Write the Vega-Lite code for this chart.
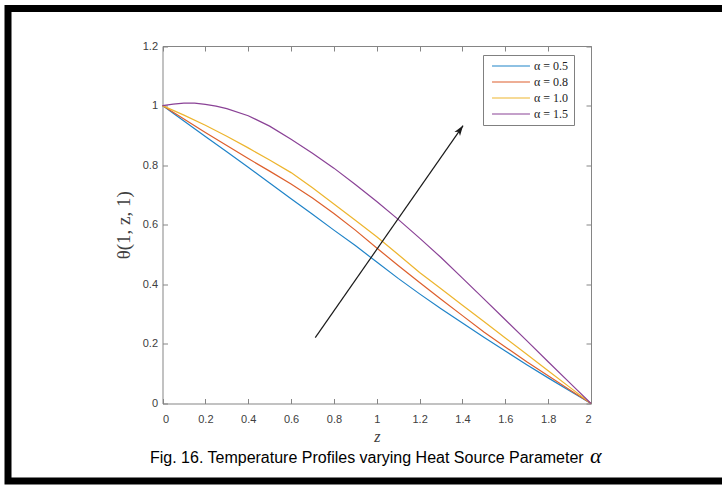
{
  "$schema": "https://vega.github.io/schema/vega-lite/v6.json",
  "width": 714,
  "height": 472.5,
  "autosize": {"type": "none"},
  "padding": {"left": 8, "top": 8.5, "right": 0, "bottom": 4},
  "background": "white",
  "config": {
    "view": {"stroke": "black", "strokeWidth": 7, "strokeDash": [714, 472.5, 1300]},
    "axis": {
      "grid": false,
      "domainColor": "#858585",
      "tickColor": "#858585",
      "labelFont": "Liberation Sans",
      "labelFontSize": 11,
      "labelColor": "#404040",
      "titleFont": "Liberation Serif",
      "titleFontWeight": "normal",
      "titleColor": "#404040"
    }
  },
  "title": {
    "text": "Fig. 16. Temperature Profiles varying Heat Source Parameter",
    "orient": "bottom",
    "anchor": "start",
    "frame": "group",
    "offset": -31,
    "dx": 142,
    "font": "Liberation Sans",
    "fontSize": 16,
    "fontWeight": "normal",
    "color": "black"
  },
  "datasets": {
    "curves": [
      {"series": "α = 0.5", "z": 0.0, "theta": 1.0},
      {"series": "α = 0.5", "z": 0.1, "theta": 0.948},
      {"series": "α = 0.5", "z": 0.2, "theta": 0.896},
      {"series": "α = 0.5", "z": 0.3, "theta": 0.845},
      {"series": "α = 0.5", "z": 0.4, "theta": 0.793},
      {"series": "α = 0.5", "z": 0.5, "theta": 0.74},
      {"series": "α = 0.5", "z": 0.6, "theta": 0.687},
      {"series": "α = 0.5", "z": 0.7, "theta": 0.635},
      {"series": "α = 0.5", "z": 0.8, "theta": 0.582},
      {"series": "α = 0.5", "z": 0.9, "theta": 0.53},
      {"series": "α = 0.5", "z": 1.0, "theta": 0.475},
      {"series": "α = 0.5", "z": 1.1, "theta": 0.42},
      {"series": "α = 0.5", "z": 1.2, "theta": 0.368},
      {"series": "α = 0.5", "z": 1.3, "theta": 0.318},
      {"series": "α = 0.5", "z": 1.4, "theta": 0.27},
      {"series": "α = 0.5", "z": 1.5, "theta": 0.222},
      {"series": "α = 0.5", "z": 1.6, "theta": 0.176},
      {"series": "α = 0.5", "z": 1.7, "theta": 0.13},
      {"series": "α = 0.5", "z": 1.8, "theta": 0.086},
      {"series": "α = 0.5", "z": 1.9, "theta": 0.043},
      {"series": "α = 0.5", "z": 2.0, "theta": 0.0},
      {"series": "α = 0.8", "z": 0.0, "theta": 1.0},
      {"series": "α = 0.8", "z": 0.1, "theta": 0.955},
      {"series": "α = 0.8", "z": 0.2, "theta": 0.91},
      {"series": "α = 0.8", "z": 0.3, "theta": 0.866},
      {"series": "α = 0.8", "z": 0.4, "theta": 0.822},
      {"series": "α = 0.8", "z": 0.5, "theta": 0.78},
      {"series": "α = 0.8", "z": 0.6, "theta": 0.737},
      {"series": "α = 0.8", "z": 0.7, "theta": 0.69},
      {"series": "α = 0.8", "z": 0.8, "theta": 0.638},
      {"series": "α = 0.8", "z": 0.9, "theta": 0.582},
      {"series": "α = 0.8", "z": 1.0, "theta": 0.522},
      {"series": "α = 0.8", "z": 1.1, "theta": 0.463},
      {"series": "α = 0.8", "z": 1.2, "theta": 0.406},
      {"series": "α = 0.8", "z": 1.3, "theta": 0.35},
      {"series": "α = 0.8", "z": 1.4, "theta": 0.295},
      {"series": "α = 0.8", "z": 1.5, "theta": 0.24},
      {"series": "α = 0.8", "z": 1.6, "theta": 0.19},
      {"series": "α = 0.8", "z": 1.7, "theta": 0.14},
      {"series": "α = 0.8", "z": 1.8, "theta": 0.093},
      {"series": "α = 0.8", "z": 1.9, "theta": 0.046},
      {"series": "α = 0.8", "z": 2.0, "theta": 0.0},
      {"series": "α = 1.0", "z": 0.0, "theta": 1.0},
      {"series": "α = 1.0", "z": 0.1, "theta": 0.968},
      {"series": "α = 1.0", "z": 0.2, "theta": 0.934},
      {"series": "α = 1.0", "z": 0.3, "theta": 0.897},
      {"series": "α = 1.0", "z": 0.4, "theta": 0.858},
      {"series": "α = 1.0", "z": 0.5, "theta": 0.817},
      {"series": "α = 1.0", "z": 0.6, "theta": 0.775},
      {"series": "α = 1.0", "z": 0.7, "theta": 0.724},
      {"series": "α = 1.0", "z": 0.8, "theta": 0.67},
      {"series": "α = 1.0", "z": 0.9, "theta": 0.615},
      {"series": "α = 1.0", "z": 1.0, "theta": 0.56},
      {"series": "α = 1.0", "z": 1.1, "theta": 0.5},
      {"series": "α = 1.0", "z": 1.2, "theta": 0.44},
      {"series": "α = 1.0", "z": 1.3, "theta": 0.385},
      {"series": "α = 1.0", "z": 1.4, "theta": 0.33},
      {"series": "α = 1.0", "z": 1.5, "theta": 0.275},
      {"series": "α = 1.0", "z": 1.6, "theta": 0.22},
      {"series": "α = 1.0", "z": 1.7, "theta": 0.165},
      {"series": "α = 1.0", "z": 1.8, "theta": 0.11},
      {"series": "α = 1.0", "z": 1.9, "theta": 0.055},
      {"series": "α = 1.0", "z": 2.0, "theta": 0.0},
      {"series": "α = 1.5", "z": 0.0, "theta": 1.0},
      {"series": "α = 1.5", "z": 0.05, "theta": 1.005},
      {"series": "α = 1.5", "z": 0.1, "theta": 1.008},
      {"series": "α = 1.5", "z": 0.15, "theta": 1.008},
      {"series": "α = 1.5", "z": 0.2, "theta": 1.004},
      {"series": "α = 1.5", "z": 0.25, "theta": 0.998},
      {"series": "α = 1.5", "z": 0.3, "theta": 0.99},
      {"series": "α = 1.5", "z": 0.4, "theta": 0.966},
      {"series": "α = 1.5", "z": 0.5, "theta": 0.931},
      {"series": "α = 1.5", "z": 0.6, "theta": 0.887},
      {"series": "α = 1.5", "z": 0.7, "theta": 0.84},
      {"series": "α = 1.5", "z": 0.8, "theta": 0.79},
      {"series": "α = 1.5", "z": 0.9, "theta": 0.735},
      {"series": "α = 1.5", "z": 1.0, "theta": 0.678},
      {"series": "α = 1.5", "z": 1.1, "theta": 0.618},
      {"series": "α = 1.5", "z": 1.2, "theta": 0.555},
      {"series": "α = 1.5", "z": 1.3, "theta": 0.49},
      {"series": "α = 1.5", "z": 1.4, "theta": 0.421},
      {"series": "α = 1.5", "z": 1.5, "theta": 0.351},
      {"series": "α = 1.5", "z": 1.6, "theta": 0.281},
      {"series": "α = 1.5", "z": 1.7, "theta": 0.211},
      {"series": "α = 1.5", "z": 1.8, "theta": 0.14},
      {"series": "α = 1.5", "z": 1.9, "theta": 0.07},
      {"series": "α = 1.5", "z": 2.0, "theta": 0.0}
    ],
    "arrow": [
      {"z0": 0.713, "t0": 0.221, "z1": 1.403, "t1": 0.933}
    ],
    "caption": [
      {"symbol": "α"}
    ]
  },
  "layer": [
    {
      "data": {"name": "curves"},
      "mark": {"type": "line", "strokeWidth": 1.2},
      "encoding": {
        "x": {
          "field": "z", "type": "quantitative",
          "scale": {"domain": [0, 2], "range": [154.5, 583], "nice": false, "zero": false},
          "axis": {
            "orient": "bottom", "offset": -77.5,
            "values": [0, 0.2, 0.4, 0.6, 0.8, 1, 1.2, 1.4, 1.6, 1.8, 2],
            "format": "~g", "tickSize": -5, "labelPadding": 15,
            "title": "z", "titleFontStyle": "italic", "titleFontSize": 16, "titlePadding": 4
          }
        },
        "y": {
          "field": "theta", "type": "quantitative",
          "scale": {"domain": [0, 1.2], "range": [395, 37.5], "nice": false, "zero": false},
          "axis": {
            "orient": "left", "offset": -154.5,
            "values": [0, 0.2, 0.4, 0.6, 0.8, 1, 1.2],
            "format": "~g", "tickSize": -5, "labelPadding": 10,
            "title": "θ(1, z, 1)", "titleFontSize": 19, "titlePadding": 9
          }
        },
        "color": {
          "field": "series", "type": "nominal",
          "scale": {
            "domain": ["α = 0.5", "α = 0.8", "α = 1.0", "α = 1.5"],
            "range": ["#1F83C8", "#DD5F2C", "#EDB52E", "#8A4296"]
          },
          "legend": {
            "orient": "none", "legendX": 475, "legendY": 46.5,
            "title": null,
            "symbolType": "M-4,0L4,0", "symbolSize": 90, "symbolStrokeWidth": 1.2,
            "symbolOffset": 17, "labelOffset": 17,
            "labelFont": "Liberation Serif", "labelFontSize": 12, "labelColor": "#222222",
            "strokeColor": "#808080", "fillColor": "white", "padding": 5, "rowPadding": 4
          }
        }
      }
    },
    {
      "data": {"name": "arrow"},
      "mark": {"type": "rule", "color": "#1a1a1a", "strokeWidth": 1.2},
      "encoding": {
        "x": {
          "field": "z0", "type": "quantitative",
          "axis": {
            "orient": "top", "offset": -37.5,
            "values": [0, 0.2, 0.4, 0.6, 0.8, 1, 1.2, 1.4, 1.6, 1.8, 2],
            "labels": false, "tickSize": -5, "title": null
          }
        },
        "y": {
          "field": "t0", "type": "quantitative",
          "axis": {
            "orient": "right", "offset": -131,
            "values": [0, 0.2, 0.4, 0.6, 0.8, 1, 1.2],
            "labels": false, "tickSize": -5, "title": null
          }
        },
        "x2": {"field": "z1"},
        "y2": {"field": "t1"}
      }
    },
    {
      "data": {"name": "arrow"},
      "mark": {"type": "point", "shape": "M0,0L0.6,1.8L0,1.35L-0.6,1.8Z", "filled": true, "color": "#1a1a1a", "opacity": 1, "size": 130, "angle": 35},
      "encoding": {
        "x": {"field": "z1", "type": "quantitative", "axis": null},
        "y": {"field": "t1", "type": "quantitative", "axis": null}
      }
    },
    {
      "data": {"name": "caption"},
      "mark": {"type": "text", "font": "Liberation Serif", "fontStyle": "italic", "fontSize": 22, "align": "left", "baseline": "alphabetic", "color": "black"},
      "encoding": {
        "text": {"field": "symbol"},
        "x": {"datum": 1.995, "type": "quantitative", "axis": null},
        "y": {"datum": -0.2, "type": "quantitative", "axis": null}
      }
    }
  ],
  "resolve": {"axis": {"x": "independent", "y": "independent"}}
}
